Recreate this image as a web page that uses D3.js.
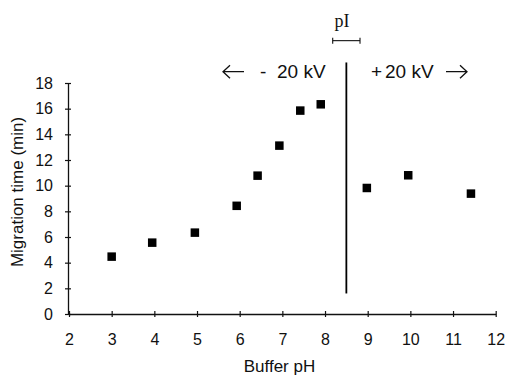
<!DOCTYPE html>
<html><head><meta charset="utf-8">
<script src="https://cdn.jsdelivr.net/npm/d3@7"></script>
<style>
html,body{margin:0;padding:0;background:#fff;}
svg{display:block;}
text{fill:#111;}
</style></head>
<body>
<svg id="chart" width="507" height="379" font-family="'Liberation Sans', Arial, Helvetica, sans-serif"></svg>
<script>
// Data
const bufferPH      = [3.0, 3.95, 4.95, 5.93, 6.42, 6.93, 7.42, 7.9, 8.98, 9.95, 11.42];
const migrationTime = [4.47, 5.56, 6.34, 8.43, 10.78, 13.12, 15.85, 16.34, 9.82, 10.81, 9.38];
const xTicks = [2,3,4,5,6,7,8,9,10,11,12];
const yTicks = [0,2,4,6,8,10,12,14,16,18];
const dividerPH = 8.5;          // polarity switch line
const dividerSpan = [1.6, 19.6];
const pIRange = [8.18, 8.82];
const pILevel = 21.3;

const svg = d3.select("#chart");
const x = d3.scaleLinear().domain([2,12]).range([69,495.7]);
const y = d3.scaleLinear().domain([0,18]).range([314,83]);

// axes
const gx = svg.append("g").attr("transform",`translate(0,${y(0)})`)
  .call(d3.axisBottom(x).tickValues(xTicks).tickSizeInner(3).tickSizeOuter(0).tickPadding(16.6));
gx.selectAll(".tick line").attr("y1",-3).attr("y2",3);
const gy = svg.append("g").attr("transform",`translate(${x(2)-1},0)`)
  .call(d3.axisLeft(y).tickValues(yTicks).tickSizeInner(3).tickSizeOuter(0).tickPadding(12));
gy.selectAll(".tick line").attr("x1",3).attr("x2",-3);
[gx,gy].forEach(g=>{
  g.attr("font-family",null).attr("font-size",null);
  g.selectAll(".domain").attr("stroke","#111").attr("stroke-width",1.3);
  g.selectAll(".tick line").attr("stroke","#111").attr("stroke-width",1.2);
  g.selectAll("text").attr("font-size",16).attr("fill","#111");
});

// axis titles
svg.append("text").attr("x",279.5).attr("y",372).attr("text-anchor","middle")
  .attr("font-size",17).text("Buffer pH");
svg.append("text").attr("transform","translate(23,192) rotate(-90)").attr("text-anchor","middle")
  .attr("font-size",17).text("Migration time (min)");

// data markers
const pts = bufferPH.map((v,i)=>({x:v,y:migrationTime[i]}));
const s = 8.5;
svg.append("g").selectAll("rect").data(pts).join("rect")
  .attr("x",d=>x(d.x)-s/2).attr("y",d=>y(d.y)-s/2)
  .attr("width",s).attr("height",s).attr("fill","#000");

// divider
svg.append("line").attr("x1",x(dividerPH)).attr("x2",x(dividerPH))
  .attr("y1",y(dividerSpan[0])).attr("y2",y(dividerSpan[1]))
  .attr("stroke","#000").attr("stroke-width",1.8);

// pI bracket
const py = y(pILevel);
const br = svg.append("g").attr("stroke","#111").attr("stroke-width",1.1);
br.append("line").attr("x1",x(pIRange[0])).attr("x2",x(pIRange[1])).attr("y1",py).attr("y2",py);
br.append("line").attr("x1",x(pIRange[0])).attr("x2",x(pIRange[0])).attr("y1",py-3).attr("y2",py+3);
br.append("line").attr("x1",x(pIRange[1])).attr("x2",x(pIRange[1])).attr("y1",py-3).attr("y2",py+3);
svg.append("text").attr("x",342).attr("y",27).attr("text-anchor","middle")
  .style("font-family",'"Liberation Serif","Times New Roman",serif').attr("font-size",18).text("pI");

// polarity labels
const ty = 78.3;
svg.append("text").attr("x",260).attr("y",ty).attr("font-size",19).text("-");
svg.append("text").attr("x",277).attr("y",ty).attr("font-size",19).text("20 kV");
svg.append("text").attr("x",371).attr("y",ty).attr("font-size",19).text("+");
svg.append("text").attr("x",385).attr("y",ty).attr("font-size",19).text("20 kV");

// arrows
const ay = 71.7;
const ar = svg.append("g").attr("stroke","#111").attr("stroke-width",1.3).attr("fill","none");
ar.append("path").attr("d",`M223,${ay}H244M230,${ay-6.5}L223,${ay}L230,${ay+6.5}`);
ar.append("path").attr("d",`M446,${ay}H467M460,${ay-6.5}L467,${ay}L460,${ay+6.5}`);
</script>
</body></html>
